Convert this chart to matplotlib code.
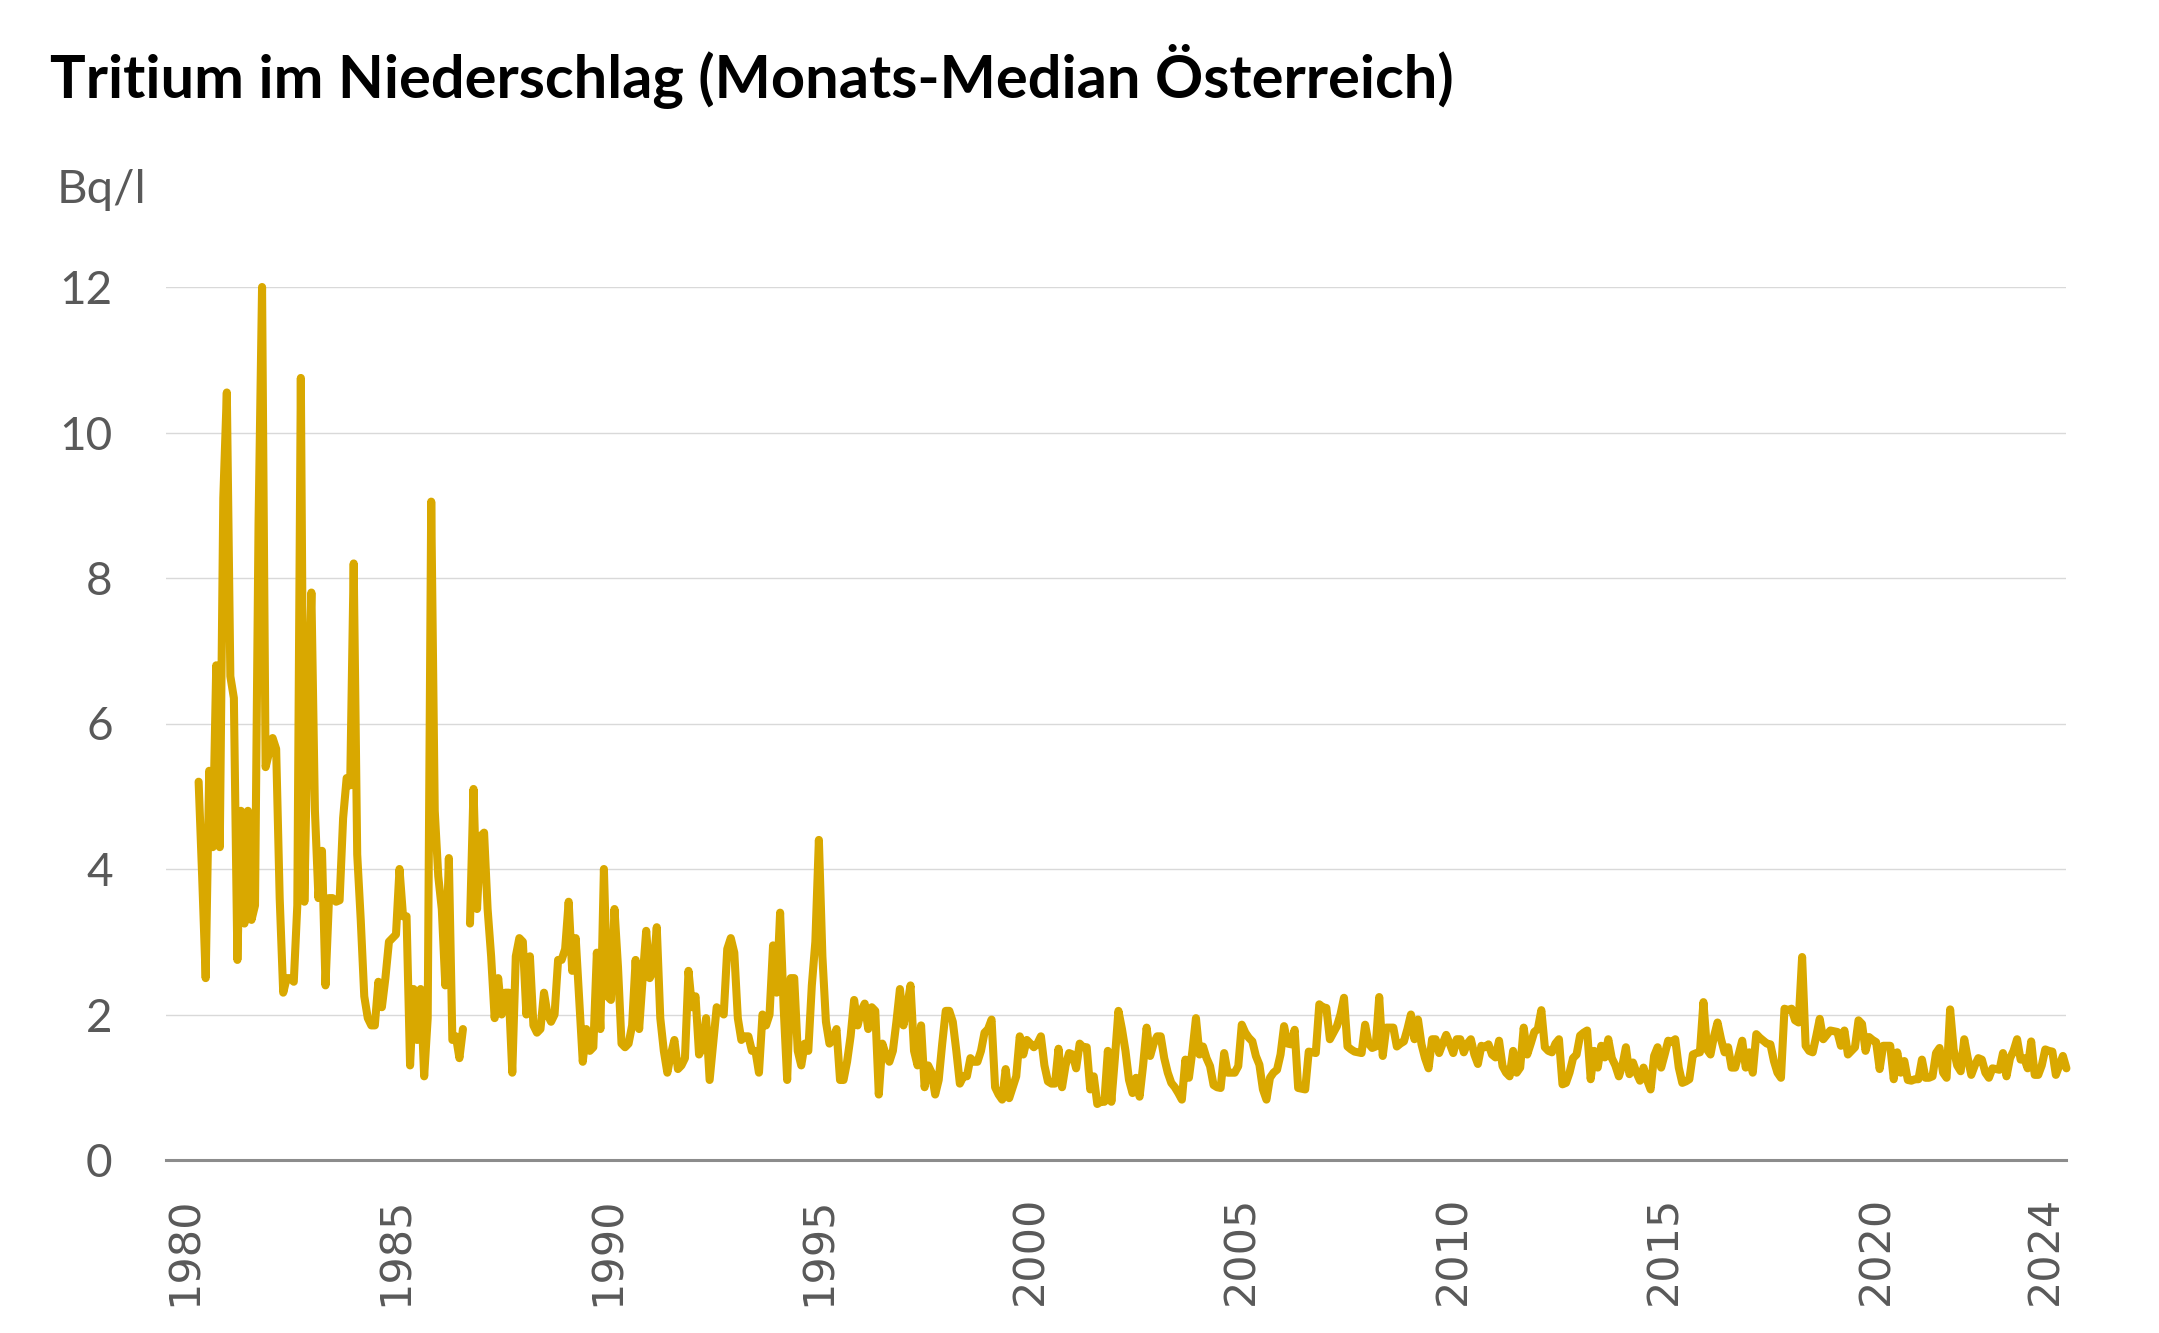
import numpy as np
import matplotlib
matplotlib.use("Agg")
import matplotlib.pyplot as plt

# monthly median tritium in precipitation (Bq/l), first value = May 1980
start_year = 1980
start_month = 5
nan = np.nan

vals_1980s = [5.2, 3.9, 2.5, 5.35, 4.3, 6.8, 4.3, 9.1,
              10.55, 6.65, 6.35, 2.75, 4.8, 3.25, 4.8, 3.3, 3.5, 8.75, 12.0, 5.4,
              5.6, 5.8, 5.65, 3.6, 2.3, 2.5, 2.5, 2.45, 3.5, 10.75, 3.55, 6.1,
              7.8, 4.8, 3.6, 4.25, 2.4, 3.6, 3.6, 3.55, 3.57, 4.7, 5.25, 5.15,
              8.2, 4.2, 3.3, 2.25, 1.95, 1.85, 1.85, 2.45, 2.1, 2.5, 3.0, 3.05,
              3.1, 4.0, 3.35, 3.35, 1.3, 2.35, 1.65, 2.35, 1.15, 1.95, 9.05, 4.8,
              3.9, 3.45, 2.4, 4.15, 1.65, 1.7, 1.4, 1.8, nan, 3.25, 5.1, 3.45,
              4.45, 4.5, 3.45, 2.8, 1.95, 2.5, 2.0, 2.3, 2.3, 1.2, 2.8, 3.05,
              3.0, 2.0, 2.8, 1.85, 1.75, 1.8, 2.3, 2.0, 1.9, 2.0, 2.75, 2.75,
              2.9, 3.55, 2.6, 3.05, 2.2, 1.35, 1.8, 1.5, 1.55, 2.85, 1.8, 4.0]

vals_1990s = [2.25, 2.2, 3.45, 2.65, 1.6, 1.55, 1.6, 1.85, 2.75, 1.8, 2.5, 3.15,
              2.5, 2.6, 3.2, 1.95, 1.5, 1.2, 1.45, 1.65, 1.25, 1.3, 1.4, 2.6,
              2.1, 2.25, 1.45, 1.55, 1.95, 1.1, 1.6, 2.1, 2.05, 2.0, 2.9, 3.05,
              2.85, 1.95, 1.65, 1.7, 1.7, 1.5, 1.5, 1.2, 2.0, 1.85, 2.0, 2.95,
              2.3, 3.4, 2.1, 1.1, 2.5, 2.5, 1.5, 1.3, 1.6, 1.5, 2.4, 3.0,
              4.4, 2.8, 1.9, 1.6, 1.65, 1.8, 1.1, 1.1, 1.35, 1.7, 2.2, 1.85,
              2.05, 2.15, 1.8, 2.1, 2.05, 0.9, 1.6, 1.45, 1.35, 1.5, 1.9, 2.35,
              1.85, 2.1, 2.4, 1.5, 1.3, 1.85, 1.0, 1.3, 1.2, 0.9, 1.1, 1.6,
              2.05, 2.05, 1.9, 1.5, 1.05, 1.15, 1.15, 1.4, 1.35, 1.35, 1.5, 1.75,
              1.8, 1.93, 1.0, 0.9, 0.83, 1.25, 0.85, 1.0, 1.15, 1.7, 1.45, 1.65]

vals_2000s = [1.6, 1.55, 1.6, 1.7, 1.3, 1.08, 1.05, 1.05, 1.53, 1.0, 1.3, 1.47,
              1.45, 1.26, 1.6, 1.55, 1.55, 0.97, 1.15, 0.77, 0.8, 0.8, 1.5, 0.8,
              1.4, 2.05, 1.8, 1.5, 1.1, 0.92, 1.13, 0.87, 1.3, 1.82, 1.43, 1.6,
              1.7, 1.7, 1.4, 1.2, 1.06, 1.0, 0.92, 0.83, 1.38, 1.13, 1.5, 1.95,
              1.45, 1.56, 1.4, 1.29, 1.03, 1.0, 0.99, 1.47, 1.2, 1.2, 1.2, 1.29,
              1.86, 1.75, 1.68, 1.63, 1.43, 1.31, 0.97, 0.83, 1.13, 1.2, 1.24, 1.45,
              1.84, 1.6, 1.59, 1.79, 0.99, 0.98, 0.97, 1.49, 1.48, 1.47, 2.14, 2.1,
              2.09, 1.66, 1.75, 1.84, 2.0, 2.23, 1.56, 1.52, 1.49, 1.48, 1.47, 1.86,
              1.6, 1.54, 1.56, 2.24, 1.43, 1.82, 1.82, 1.82, 1.56, 1.6, 1.63, 1.8,
              2.0, 1.66, 1.93, 1.59, 1.4, 1.26, 1.66, 1.66, 1.47, 1.6, 1.72, 1.6]

vals_2010s = [1.47, 1.66, 1.66, 1.48, 1.6, 1.66, 1.45, 1.32, 1.57, 1.55, 1.59, 1.45,
              1.41, 1.64, 1.29, 1.2, 1.15, 1.5, 1.2, 1.27, 1.82, 1.45, 1.6, 1.76,
              1.8, 2.06, 1.55, 1.5, 1.48, 1.6, 1.66, 1.04, 1.06, 1.2, 1.4, 1.45,
              1.71, 1.75, 1.78, 1.11, 1.5, 1.27, 1.57, 1.41, 1.66, 1.4, 1.3, 1.15,
              1.3, 1.55, 1.18, 1.34, 1.2, 1.09, 1.27, 1.1, 0.97, 1.43, 1.55, 1.27,
              1.45, 1.64, 1.62, 1.66, 1.27, 1.06, 1.08, 1.11, 1.45, 1.47, 1.48, 2.17,
              1.52, 1.45, 1.7, 1.89, 1.66, 1.48, 1.55, 1.27, 1.27, 1.45, 1.64, 1.27,
              1.48, 1.2, 1.73, 1.68, 1.64, 1.6, 1.59, 1.36, 1.2, 1.13, 2.08, 2.06,
              2.08, 1.92, 1.89, 2.79, 1.57, 1.5, 1.48, 1.7, 1.94, 1.66, 1.72, 1.78,
              1.77, 1.76, 1.57, 1.78, 1.45, 1.5, 1.55, 1.92, 1.87, 1.5, 1.69, 1.65]

vals_2020s = [1.62, 1.25, 1.57, 1.57, 1.57, 1.11, 1.48, 1.2, 1.36, 1.1, 1.09, 1.11,
              1.11, 1.38, 1.13, 1.13, 1.15, 1.47, 1.54, 1.2, 1.13, 2.07, 1.52, 1.3,
              1.22, 1.66, 1.4, 1.17, 1.3, 1.4, 1.38, 1.2, 1.13, 1.26, 1.25, 1.24,
              1.47, 1.15, 1.4, 1.5, 1.66, 1.38, 1.4, 1.26, 1.63, 1.17, 1.17, 1.3,
              1.52, 1.5, 1.49, 1.17, 1.3, 1.43, 1.26]

tick_years = [1980, 1985, 1990, 1995, 2000, 2005, 2010, 2015, 2020, 2024]
y_ticks = [0, 2, 4, 6, 8, 10, 12]

title = "Tritium im Niederschlag (Monats-Median Österreich)"
unit = "Bq/l"

values = np.array(vals_1980s + vals_1990s + vals_2000s + vals_2010s + vals_2020s)
x = start_year + (start_month - 1 + np.arange(len(values))) / 12.0

W, H = 2159, 1333
fig = plt.figure(figsize=(W / 100, H / 100), dpi=100)
fig.patch.set_facecolor("white")

ax = fig.add_axes([165.5 / W, (H - 1160) / H, (2066 - 165.5) / W, (1160 - 287) / H])
ax.plot(x, values, color="#D9A800", lw=5.8, solid_joinstyle="round",
        solid_capstyle="round", clip_on=False, zorder=3)

ax.set_xlim(1979.55, 2024.49)
ax.set_ylim(0, 12)

grey = "#595959"
ax.set_yticks(y_ticks)
ax.set_yticklabels([str(v) for v in y_ticks], fontfamily="Lato", fontsize=33, color=grey)
ax.set_xticks(tick_years)
ax.set_xticklabels([str(v) for v in tick_years], rotation=90, fontfamily="DejaVu Sans",
                   fontsize=31, color=grey)
ax.tick_params(axis="y", length=0, pad=38)
ax.tick_params(axis="x", length=0, pad=26)

ax.yaxis.grid(True, color="#d9d9d9", lw=1.0)
ax.xaxis.grid(False)
ax.set_axisbelow(True)
for s in ["left", "right", "top"]:
    ax.spines[s].set_visible(False)
ax.spines["bottom"].set_color("#8c8c8c")
ax.spines["bottom"].set_linewidth(2.2)
ax.spines["bottom"].set_zorder(4)

fig.text(57 / W, 1 - 203 / H, unit, fontfamily="Lato", fontsize=34, color=grey,
         ha="left", va="baseline")

t = fig.text(50.5 / W, 1 - 98 / H, title, fontfamily="Lato", fontweight="bold",
             fontsize=44, color="black", ha="left", va="baseline")
fig.canvas.draw()
bb = t.get_window_extent()
t.set_fontsize(44 * 1404 / bb.width)

fig.savefig("out.png", dpi=100, facecolor="white")
